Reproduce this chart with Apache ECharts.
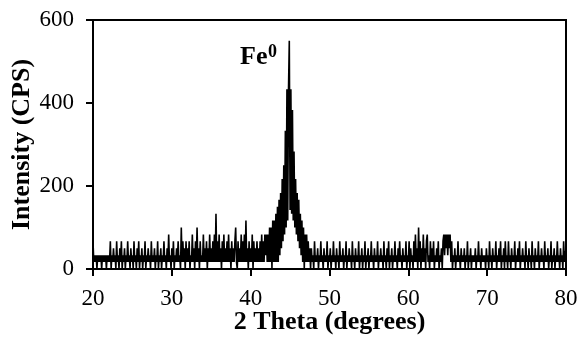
<!DOCTYPE html>
<html>
<head>
<meta charset="utf-8">
<script src="https://cdn.jsdelivr.net/npm/echarts@6/dist/echarts.min.js"></script>
<style>
html,body{margin:0;padding:0;background:#fff;}
#chart{width:581px;height:338px;}
</style>
</head>
<body>
<div id="chart"></div>
<script>
// 2θ sampling grid (degrees)
const thetaStart = 20;
const thetaStep = 0.1;

// Intensity (CPS), one row per degree
const cps20 = [
  67,17,33,17,33,0,33,17,33,17,
  33,0,33,17,33,17,33,0,33,17,
  33,17,67,0,33,17,50,17,33,0,
  67,17,33,0,50,17,67,0,33,17,
  50,0,33,17,67,17,33,0,50,17,
  33,0,67,17,33,0,50,17,67,0,
  33,17,50,0,33,17,67,0,33,17,
  50,17,33,0,67,17,33,17,50,0,
  33,17,67,0,33,17,50,0,33,17,
  67,17,33,0,50,17,83,17,33,0
];
const cps30 = [
  50,17,67,0,33,17,50,17,67,17,
  33,0,100,17,67,17,50,0,67,17,
  50,17,67,0,33,17,83,17,50,0,
  67,17,100,17,50,0,67,17,33,17,
  83,17,50,17,67,0,50,17,83,17,
  50,17,67,17,83,17,133,17,67,17,
  83,17,50,0,67,17,83,17,50,17,
  67,17,83,17,50,0,67,17,50,17,
  67,100,17,0,67,17,50,17,83,17,
  67,17,83,17,117,17,50,0,67,17
];
const cps40 = [
  50,17,83,0,67,17,50,17,67,17,
  50,17,67,17,83,17,67,17,83,33,
  83,17,83,17,100,17,100,0,117,17,
  117,17,133,17,150,17,167,33,183,50,
  217,67,250,83,333,100,433,117,433,550,
  142,433,133,383,117,283,100,217,83,183,
  67,167,50,133,33,117,17,100,0,83,
  17,83,17,67,17,50,0,50,17,33,
  0,67,17,33,17,50,0,33,17,67,
  17,33,0,50,17,33,17,67,0,33
];
const cps50 = [
  17,50,0,33,17,67,17,33,0,50,
  17,33,0,67,17,33,17,50,0,33,
  17,67,0,33,17,50,17,33,0,67,
  17,33,0,50,17,33,17,67,0,33,
  17,50,0,33,17,67,0,33,17,50,
  0,33,17,67,17,33,0,50,17,33,
  17,67,0,33,17,50,17,33,0,67,
  17,33,0,50,17,67,0,33,17,50,
  0,33,17,67,17,33,0,50,17,67,
  17,33,0,50,17,33,17,67,0,33
];
const cps60 = [
  17,67,0,50,17,33,0,67,17,83,
  17,50,0,100,17,67,0,50,17,83,
  17,50,0,67,83,17,33,0,67,17,
  50,17,67,0,33,17,50,17,67,0,
  33,17,50,0,67,83,33,83,50,83,
  33,83,50,83,17,67,0,33,17,50,
  0,33,17,67,17,33,0,50,17,33,
  17,50,0,33,17,67,0,33,17,50,
  0,33,17,33,17,50,0,33,17,67,
  17,33,0,50,17,33,17,33,0,50
];
const cps70 = [
  17,33,0,67,17,33,0,50,17,33,
  17,67,0,33,17,50,17,67,0,33,
  17,50,0,67,17,33,0,67,17,33,
  0,50,17,33,17,67,0,33,17,50,
  17,67,0,33,17,50,17,33,0,67,
  17,33,0,50,17,33,0,67,17,33,
  0,50,17,33,17,67,0,33,17,50,
  17,33,0,67,17,33,17,50,0,33,
  17,67,0,33,17,50,0,33,17,67,
  17,33,0,50,17,33,0,67,17,33,
  50
];

const xTicks = { min: 20, max: 80, interval: 10 };
const yTicks = { min: 0, max: 600, interval: 200 };

const intensity = [].concat(cps20, cps30, cps40, cps50, cps60, cps70);
const data = intensity.map((v, i) => [+(thetaStart + i * thetaStep).toFixed(2), v]);

const chart = echarts.init(document.getElementById('chart'), null, { renderer: 'canvas' });
const serif = '"Liberation Serif", "Times New Roman", serif';

chart.setOption({
  animation: false,
  backgroundColor: '#fff',
  grid: {
    left: 93, right: 15, top: 20, bottom: 69,
    containLabel: false,
    outerBoundsMode: 'none',
    show: true, borderColor: '#000', borderWidth: 2, backgroundColor: 'transparent'
  },
  xAxis: {
    type: 'value',
    min: xTicks.min, max: xTicks.max, interval: xTicks.interval,
    name: '2 Theta (degrees)',
    nameLocation: 'middle',
    nameGap: 40,
    nameMoveOverlap: false,
    nameTextStyle: { fontFamily: serif, fontWeight: 'bold', fontSize: 26, color: '#000' },
    axisLine: { show: true, lineStyle: { color: '#000', width: 2 } },
    axisTick: { show: true, length: 7, lineStyle: { color: '#000', width: 2 } },
    axisLabel: { fontFamily: serif, fontSize: 23, color: '#000', margin: 18 },
    splitLine: { show: false }
  },
  yAxis: {
    type: 'value',
    min: yTicks.min, max: yTicks.max, interval: yTicks.interval,
    name: 'Intensity (CPS)',
    nameLocation: 'middle',
    nameGap: 58,
    nameMoveOverlap: false,
    nameTextStyle: { fontFamily: serif, fontWeight: 'bold', fontSize: 26, color: '#000' },
    axisLine: { show: true, lineStyle: { color: '#000', width: 2 } },
    axisTick: { show: true, length: 7, lineStyle: { color: '#000', width: 2 } },
    axisLabel: { fontFamily: serif, fontSize: 23, color: '#000', margin: 19 },
    splitLine: { show: false }
  },
  series: [{
    type: 'line',
    data: data,
    showSymbol: false,
    symbol: 'none',
    sampling: null,
    lineStyle: { color: '#000', width: 1.6 },
    z: 1
  }],
  graphic: [
    { type: 'text', left: 240, top: 44, style: { text: 'Fe', font: 'bold 26px ' + serif, fill: '#000' } },
    { type: 'text', left: 268, top: 43, style: { text: '0', font: 'bold 18px ' + serif, fill: '#000' } }
  ]
});
</script>
</body>
</html>
